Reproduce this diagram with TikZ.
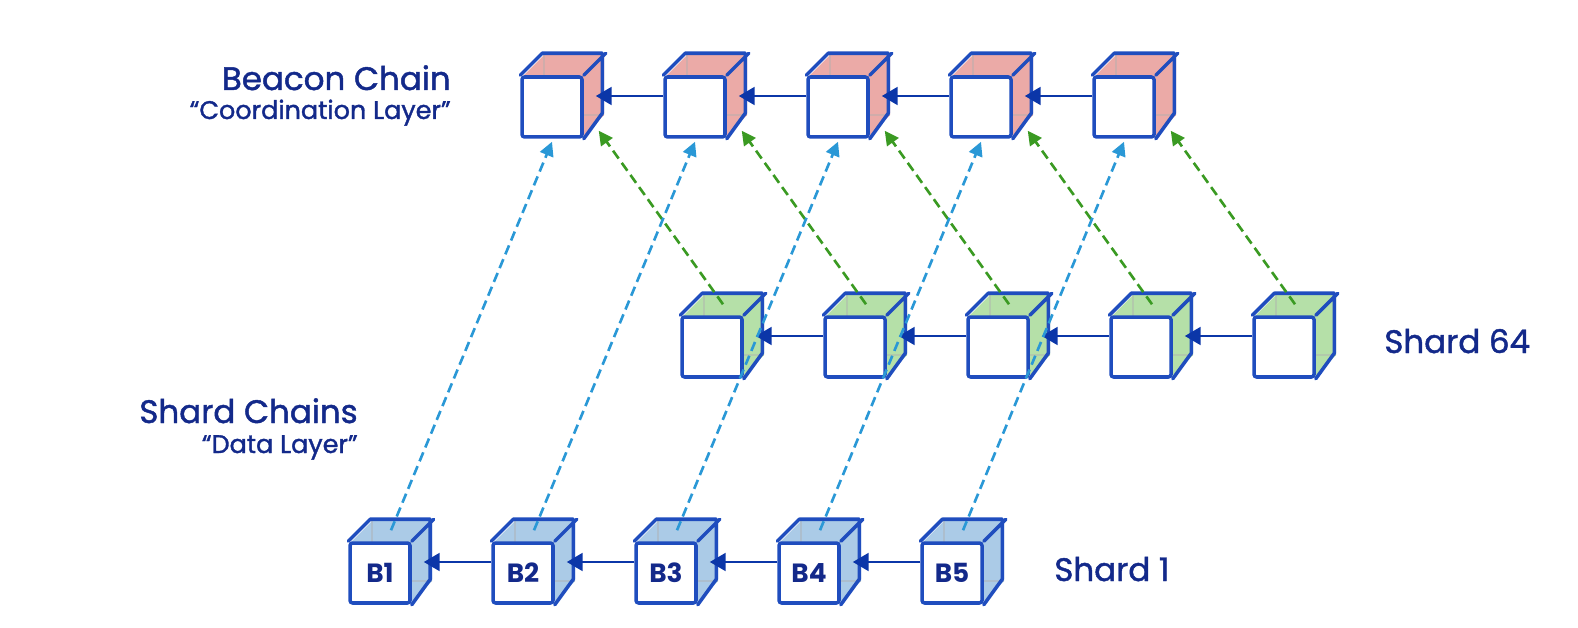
\documentclass[tikz,border=0pt]{standalone}
\usepackage{fontspec}
\setmainfont{Poppins}
\newfontfamily\medfont{Poppins}[FakeBold=1.4]
\usetikzlibrary{arrows.meta}
\usetikzlibrary{calc}

\definecolor{edgeblue}{HTML}{1F4DBE}
\definecolor{linkblue}{HTML}{0B36A8}
\definecolor{textblue}{HTML}{13298A}
\definecolor{beaconfill}{HTML}{EBAAA7}
\definecolor{shardfill}{HTML}{B5E0A8}
\definecolor{blockfill}{HTML}{ABCBE7}
\definecolor{dashblue}{HTML}{2A98D6}
\definecolor{dashgreen}{HTML}{3A9A22}

% cube: node name, front top-left x, y (pixels), tint, label
\newcommand{\cubeat}[5]{%
  \fill[#4] (#2,#3) -- ++(22,-22) -- ++(60,0) -- ++(0,60) -- ++(-22,22) -- cycle;
  \draw[#4!80!black!70, line width=0.8pt] (#2+22,#3-22) -- ++(0,60) -- ++(60,0);
  \node[cubebox] (#1) at (#2+30,#3+30) {#5};
  \draw[cubeedge] (#1.north west) -- ++(22,-22) -- ++(60,0) -- ++(0,60) -- (#1.south east)
    (#1.north east) -- ++(22,-22);
}

\begin{document}
\begin{tikzpicture}[x=0.02cm, y=-0.02cm,
  cubebox/.style={draw=edgeblue, line width=2pt, fill=white, minimum size=1.2cm,
    inner sep=0pt, rounded corners=1.5pt, font=\fontsize{15}{15}\selectfont\bfseries, text=textblue},
  cubeedge/.style={draw=edgeblue, line width=2pt, line join=round, line cap=round},
  chainlink/.style={draw=linkblue, line width=1.7pt, -{Triangle[length=9pt, width=10pt]}},
  upblue/.style={draw=dashblue, line width=1.5pt, dash pattern=on 5.5pt off 3pt,
    -{Triangle[length=8pt, width=8pt]}},
  upgreen/.style={draw=dashgreen, line width=1.5pt, dash pattern=on 5.5pt off 3pt,
    -{Triangle[length=8pt, width=8pt]}},
  title/.style={text=textblue, font=\medfont\fontsize{18.5}{20}\selectfont, inner sep=0pt},
  subtitle/.style={text=textblue, font=\medfont\fontsize{14.5}{16}\selectfont, inner sep=0pt}]
\useasboundingbox (0,0) rectangle (1578,628);

\cubeat{bc1}{522}{77}{beaconfill}{}
\cubeat{bc2}{665}{77}{beaconfill}{}
\cubeat{bc3}{808}{77}{beaconfill}{}
\cubeat{bc4}{951}{77}{beaconfill}{}
\cubeat{bc5}{1094}{77}{beaconfill}{}

\cubeat{sh1}{682}{317}{shardfill}{}
\cubeat{sh2}{825}{317}{shardfill}{}
\cubeat{sh3}{968}{317}{shardfill}{}
\cubeat{sh4}{1111}{317}{shardfill}{}
\cubeat{sh5}{1254}{317}{shardfill}{}

\cubeat{bl1}{350}{543}{blockfill}{B1}
\cubeat{bl2}{493}{543}{blockfill}{B2}
\cubeat{bl3}{636}{543}{blockfill}{B3}
\cubeat{bl4}{779}{543}{blockfill}{B4}
\cubeat{bl5}{922}{543}{blockfill}{B5}

\foreach \i [evaluate=\i as \j using int(\i+1)] in {1,...,4} {
  \draw[chainlink] ($(bc\j.west)+(0,-11)$) -- ($(bc\i.east)+(12,-11)$);
  \draw[chainlink] ($(sh\j.west)+(0,-11)$) -- ($(sh\i.east)+(12,-11)$);
  \draw[chainlink] ($(bl\j.west)+(0,-11)$) -- ($(bl\i.east)+(12,-11)$);
}

\foreach \i in {1,...,5} {
  \draw[upblue] ($(bl\i.north)+(11,-11)$) -- ($(bc\i.south)+(0,3)$);
  \draw[upgreen] ($(sh\i.north)+(11,-11)$) -- ($(bc\i.south east)+(15,-8)$);
}

\node[title, anchor=base east] (beacon) at (451,90) {Beacon Chain};
\node[subtitle, anchor=base east] (coord) at (451,119) {“Coordination Layer”};
\node[title, anchor=base east] (shards) at (358,423) {Shard Chains};
\node[subtitle, anchor=base east] (data) at (358,453) {“Data Layer”};
\node[title, anchor=base west] (s64) at (1384,353) {Shard 64};
\node[title, anchor=base west] (s1) at (1054,581) {Shard 1};
\end{tikzpicture}
\end{document}
